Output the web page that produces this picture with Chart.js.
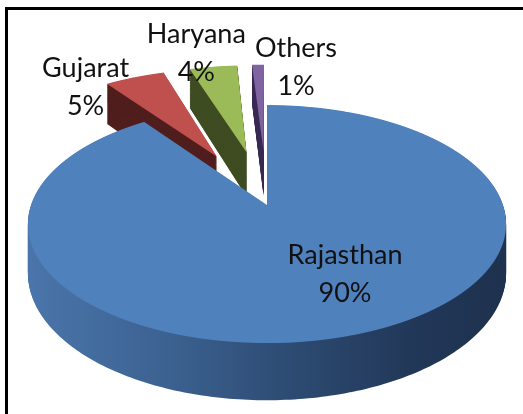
<!DOCTYPE html>
<html lang="en">
<head>
<meta charset="UTF-8">
<title>Share by state</title>
<style>
  body { margin: 0; background: #fff; }
  .wrap { position: relative; width: 523px; height: 414px; overflow: hidden; }
  .frame {
    position: absolute; left: 5px; top: 7px; width: 600px; height: 500px;
    border-top: 3px solid #000; border-left: 3px solid #000;
  }
  canvas { position: absolute; left: 0; top: 0; }
</style>
</head>
<body>
<div class="wrap">
  <canvas id="pie" width="523" height="414"></canvas>
  <div class="frame"></div>
</div>

<script src="https://cdn.jsdelivr.net/npm/chart.js@4.4.0/dist/chart.umd.min.js"></script>
<script>
  const states = ['Rajasthan', 'Gujarat', 'Haryana', 'Others'];
  const shares = [90, 5, 4, 1];

  const topColors = ['#4F81BD', '#C0504D', '#9BBB59', '#8064A2'];
  const wallColors = [null, '#4F1E1D', '#3F4C22', '#3B2C55'];
  const explode = [0, 0.5, 0.5, 0.5];            // fraction of radius
  const labelShift = [[-8, -62], [-49, 9], [-17, -14], [38, 2]];

  // fake 3d: perspective tilt of the disc and height of the rim
  const rimW = 236, tiltA = 0.16, tiltB = 116, depth = 48;

  function geometry(chart) {
    const arcs = chart.getDatasetMeta(0).data;
    const cx = arcs[0].x, cy = arcs[0].y, r = arcs[0].outerRadius;
    const shift = arcs.map((a, i) => {
      const mid = (a.startAngle + a.endAngle) / 2;
      return [Math.cos(mid) * explode[i] * r, Math.sin(mid) * explode[i] * r];
    });
    const proj = (x, y, t) => {
      const u = (x - cx) / r, v = (y - cy) / r;
      const s = 1 / (1 - tiltA * v);
      return [cx + u * rimW * s, cy + tiltB * v * s + t * depth * s];
    };
    return { arcs, cx, cy, r, shift, proj };
  }

  const pie3d = {
    id: 'pie3d',
    beforeDatasetsDraw(chart) {
      const ctx = chart.ctx;
      const dpr = chart.currentDevicePixelRatio;
      const { arcs, cx, cy, r, shift, proj } = geometry(chart);

      // sides first: stack the outline downwards
      const grad = ctx.createLinearGradient(cx - rimW, 0, cx + rimW, 0);
      grad.addColorStop(0, '#4A75AA');
      grad.addColorStop(0.3, '#3B6190');
      grad.addColorStop(0.55, '#2D4B72');
      grad.addColorStop(0.8, '#223859');
      grad.addColorStop(1, '#1E314E');

      arcs.forEach((a, i) => {
        const [ox, oy] = shift[i];
        const pts = [[a.x + ox, a.y + oy]];
        const n = Math.max(6, Math.ceil((a.endAngle - a.startAngle) * 60));
        for (let k = 0; k <= n; k++) {
          const ang = a.startAngle + (a.endAngle - a.startAngle) * k / n;
          pts.push([a.x + ox + Math.cos(ang) * a.outerRadius, a.y + oy + Math.sin(ang) * a.outerRadius]);
        }
        ctx.fillStyle = i === 0 ? grad : wallColors[i];
        for (let step = 60; step >= 1; step--) {
          const t = step / 60;
          ctx.beginPath();
          pts.forEach((p, j) => {
            const q = proj(p[0], p[1], t);
            if (j) ctx.lineTo(q[0], q[1]); else ctx.moveTo(q[0], q[1]);
          });
          ctx.closePath();
          ctx.fill();
        }
      });

      // top faces, one pixel row at a time with the local perspective scale
      const y0 = Math.floor(cy - tiltB * 1.35), y1 = Math.ceil(cy + tiltB * 1.25);
      for (let row = y0; row < y1; row++) {
        const Y = row + 0.5 - cy;
        const vm = Y / (tiltB + tiltA * Y);
        const s = 1 / (1 - tiltA * vm);
        const kx = rimW * s / r, ky = tiltB * s * s / r;
        ctx.save();
        ctx.beginPath();
        ctx.rect(0, row, chart.width, 1);
        ctx.clip();
        ctx.setTransform(dpr * kx, 0, 0, dpr * ky, dpr * (cx - cx * kx), dpr * (cy + Y - (cy + vm * r) * ky));
        arcs.forEach((a, i) => {
          ctx.save();
          ctx.translate(shift[i][0], shift[i][1]);
          const saved = a.options;
          a.options = Object.assign({}, saved, { backgroundColor: topColors[i], borderWidth: 0, offset: 0 });
          a.draw(ctx);
          a.options = saved;
          ctx.restore();
        });
        ctx.restore();
      }
      return false;
    },
    afterDraw(chart) {
      const ctx = chart.ctx;
      const { arcs, shift, proj } = geometry(chart);
      ctx.save();
      ctx.font = '27px Lato';
      ctx.fillStyle = '#111';
      ctx.textAlign = 'center';
      ctx.textBaseline = 'alphabetic';
      arcs.forEach((a, i) => {
        const mid = (a.startAngle + a.endAngle) / 2;
        const [X, Y] = proj(a.x + shift[i][0] + Math.cos(mid) * a.outerRadius,
                            a.y + shift[i][1] + Math.sin(mid) * a.outerRadius, 0);
        const lx = X + labelShift[i][0], ly = Y + labelShift[i][1];
        ctx.fillText(states[i], lx, ly - 9.5);
        ctx.fillText(shares[i] + '%', lx, ly + 28.5);
      });
      ctx.restore();
    }
  };

  new Chart(document.getElementById('pie'), {
    type: 'pie',
    data: {
      labels: states,
      datasets: [{ data: shares, backgroundColor: topColors, borderWidth: 0 }]
    },
    options: {
      responsive: false,
      animation: false,
      layout: { padding: { left: 11, bottom: 4 } },
      plugins: { legend: { display: false }, tooltip: { enabled: false } }
    },
    plugins: [pie3d]
  });
</script>
</body>
</html>
